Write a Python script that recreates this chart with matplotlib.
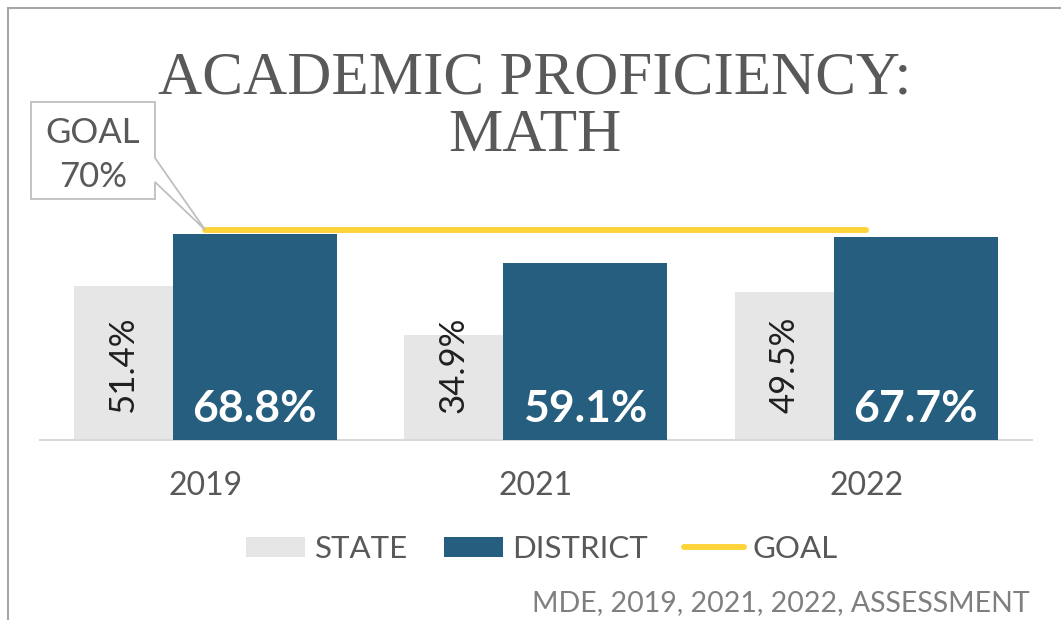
import numpy as np
import matplotlib.pyplot as plt
from matplotlib.patches import Polygon, Rectangle

plt.rcParams['font.family'] = ['Lato', 'DejaVu Sans']

years = ['2019', '2021', '2022']
state = [51.4, 34.9, 49.5]
district = [68.8, 59.1, 67.7]
goal = [70, 70, 70]

STATE_C = '#E7E6E6'
DIST_C = '#255E7E'
GOAL_C = '#FFD43B'
GRAY = '#595959'

W, H = 1061, 620
fig = plt.figure(figsize=(W / 100, H / 100), dpi=100)


def fx(px):
    return px / W


def fy(py):
    return 1 - py / H


ax = fig.add_axes([fx(40), fy(440), 991.5 / W, 240 / H])
x = np.arange(len(years))
w = 0.496
off = 0.15

b1 = ax.bar(x - off, state, w, color=STATE_C, zorder=2, label='STATE')
b2 = ax.bar(x + off, district, w, color=DIST_C, zorder=3, label='DISTRICT')
l1, = ax.plot(x, goal, color=GOAL_C, lw=4.3, solid_capstyle='round', zorder=4, label='GOAL')

for i in range(len(years)):
    # state value sits in the part of the bar not covered by district
    ax.annotate('{}%'.format(state[i]), (x[i] - w / 2, 0), xytext=(0, 19.5),
                textcoords='offset points', rotation=90, ha='center', va='bottom',
                fontsize=25, color='#1F1F1F', zorder=5)
    ax.annotate('{}%'.format(district[i]), (x[i] + off, 0), xytext=(0, 13),
                textcoords='offset points', ha='center', va='baseline',
                fontsize=32, fontweight='bold', color='white', zorder=5)

ax.set_xlim(-0.5, 2.5)
ax.set_ylim(0, 80)
ax.set_xticks(x, years)
ax.set_yticks([])
ax.tick_params(axis='x', length=0, pad=22, labelsize=23, labelcolor=GRAY)
for s in ['left', 'right', 'top']:
    ax.spines[s].set_visible(False)
ax.spines['bottom'].set_color('#D9D9D9')
ax.spines['bottom'].set_linewidth(1.5)

ax.legend(handles=[b1, b2, l1], loc='center', bbox_to_anchor=(fx(542), fy(549)),
          bbox_transform=fig.transFigure, ncol=3, frameon=False, fontsize=22.5,
          labelcolor=GRAY, handlelength=1.9, handleheight=0.65, handletextpad=0.3,
          columnspacing=1.15)

# callout pointing at goal start
tip = fig.transFigure.inverted().transform(ax.transData.transform((x[0], goal[0])))
pts = [(31, 102), (155, 102), (155, 158), None, (155, 182), (155, 199), (31, 199)]
poly = []
for p in pts:
    if p is None:
        poly.append(tuple(tip))
    else:
        poly.append((fx(p[0]), fy(p[1])))
fig.patches.append(Polygon(poly, closed=True, facecolor='white', edgecolor='#BFBFBF',
                           lw=1.3, transform=fig.transFigure, zorder=5))
fig.text(fx(93), fy(143), 'GOAL', ha='center', va='baseline', fontsize=25, color=GRAY, zorder=6)
fig.text(fx(93), fy(187), '70%', ha='center', va='baseline', fontsize=25, color=GRAY, zorder=6)

# border
fig.patches.append(Rectangle((fx(8), -0.1), 1.2, fy(8) + 0.1, fill=False, edgecolor='#A6A6A6',
                             lw=1.5, transform=fig.transFigure))

fig.text(fx(535), fy(93), 'ACADEMIC PROFICIENCY:', ha='center', va='baseline', fontsize=44,
         family='Liberation Serif', color=GRAY)
fig.text(fx(535), fy(151), 'MATH', ha='center', va='baseline', fontsize=44,
         family='Liberation Serif', color=GRAY)

fig.text(fx(1030), fy(611), 'MDE, 2019, 2021, 2022, ASSESSMENT', ha='right', va='baseline',
         fontsize=20.5, color='#7F7F7F')

fig.savefig('out.png', dpi=100)
